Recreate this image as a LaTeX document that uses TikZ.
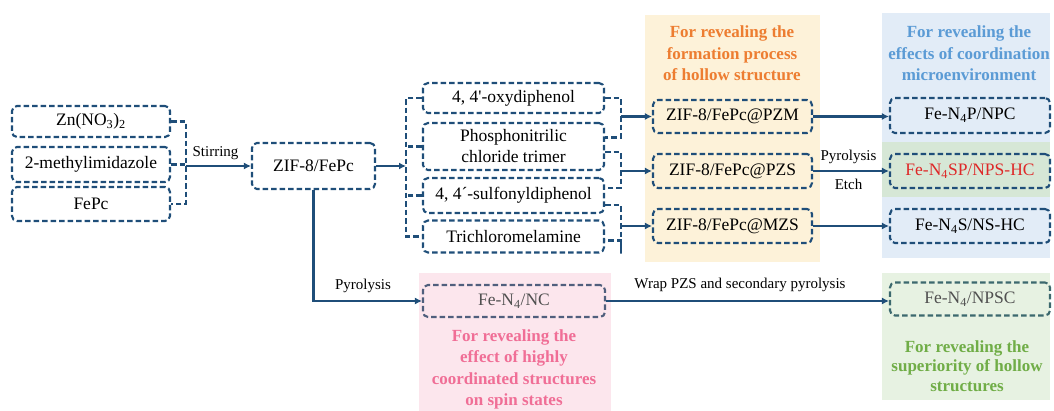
\documentclass[tikz,border=0pt]{standalone}
\usepackage{fontspec}
\setmainfont{Liberation Serif}
\usetikzlibrary{arrows.meta,calc}
\definecolor{bline}{RGB}{31,78,121}
\definecolor{orbg}{RGB}{253,242,217}
\definecolor{blbg}{RGB}{226,236,247}
\definecolor{hlbg}{RGB}{214,231,214}
\definecolor{pkbg}{RGB}{252,230,237}
\definecolor{gnbg}{RGB}{231,242,226}
\definecolor{ortx}{RGB}{237,125,49}
\definecolor{bltx}{RGB}{91,155,213}
\definecolor{pktx}{RGB}{240,110,150}
\definecolor{gntx}{RGB}{112,173,71}
\definecolor{rdtx}{RGB}{222,40,40}
\definecolor{ncln}{RGB}{80,95,125}
\definecolor{npln}{RGB}{60,105,110}
\definecolor{gytx}{RGB}{80,80,80}
\tikzset{
  dbox/.style={draw=bline, line width=2.1pt, dash pattern=on 5.5pt off 3pt, rounded corners=5pt,
    inner sep=0pt, align=center, font=\fontsize{17.5}{21}\selectfont, text=black},
  brk/.style={draw=bline, line width=2.1pt, dash pattern=on 5.5pt off 3pt},
  arr/.style={draw=bline, line width=2.4pt, -{Latex[length=7pt,width=7pt]}},
  lbl/.style={font=\fontsize{15}{18}\selectfont, inner sep=0pt},
  ttl/.style={font=\fontsize{17}{21.5}\selectfont\bfseries, align=center, inner sep=0pt}
}
\begin{document}
\begin{tikzpicture}[x=1pt,y=-1pt]
\useasboundingbox (0,0) rectangle (1054,411);
% backgrounds
\fill[orbg] (645,15) rectangle (820,262);
\fill[blbg] (882,13) rectangle (1050,258);
\fill[hlbg] (882,142) rectangle (1050,197);
\fill[pkbg] (419,273) rectangle (611,411);
\fill[gnbg] (882,273) rectangle (1050,400);
% titles
\node[ttl, text=ortx] (t1) at (732,53.5) {For revealing the\\formation process\\of hollow structure};
\node[ttl, text=bltx] (t2) at (969,53.5) {For revealing the\\effects of coordination\\microenvironment};
\node[ttl, text=pktx] (t3) at (514,369.5) {For revealing the\\effect of highly\\coordinated structures\\on spin states};
\node[ttl, text=gntx, font=\fontsize{17}{19.5}\selectfont\bfseries] (t4) at (967,366) {For revealing the\\superiority of hollow\\structures};
% left boxes
\node[dbox, minimum width=158pt, minimum height=31pt] (zn) at (91,121.5) {Zn(NO\textsubscript{3})\textsubscript{2}};
\node[dbox, minimum width=158pt, minimum height=35pt] (mi) at (91,164.5) {2-methylimidazole};
\node[dbox, minimum width=158pt, minimum height=34pt] (fe) at (91,204) {FePc};
\node[dbox, minimum width=123pt, minimum height=46pt] (zif) at (313.5,166) {ZIF-8/FePc};
% middle boxes
\node[dbox, minimum width=181pt, minimum height=30pt] (oxy) at (513.5,98) {4, 4\textquotesingle-oxydiphenol};
\node[dbox, minimum width=181pt, minimum height=47pt] (pho) at (513.5,146.5) {Phosphonitrilic\\chloride trimer};
\node[dbox, minimum width=181pt, minimum height=35pt] (sul) at (513.5,195.5) {4, 4´-sulfonyldiphenol};
\node[dbox, minimum width=181pt, minimum height=32pt] (tri) at (513.5,236.5) {Trichloromelamine};
% ZIF@ boxes
\node[dbox, minimum width=159pt, minimum height=33pt] (pzm) at (732.5,116.5) {ZIF-8/FePc@PZM};
\node[dbox, minimum width=159pt, minimum height=34pt] (pzs) at (732.5,171) {ZIF-8/FePc@PZS};
\node[dbox, minimum width=159pt, minimum height=34pt] (mzs) at (732.5,226) {ZIF-8/FePc@MZS};
% products
\node[dbox, minimum width=160pt, minimum height=35pt] (npc) at (970,115.5) {Fe-N\textsubscript{4}P/NPC};
\node[dbox, minimum width=160pt, minimum height=34pt, text=rdtx] (nps) at (970,171) {Fe-N\textsubscript{4}SP/NPS-HC};
\node[dbox, minimum width=160pt, minimum height=34pt] (ns) at (970,226) {Fe-N\textsubscript{4}S/NS-HC};
\node[dbox, draw=ncln, text=gytx, minimum width=182pt, minimum height=32pt] (nc) at (514,301) {Fe-N\textsubscript{4}/NC};
\node[dbox, draw=npln, text=gytx, minimum width=160pt, minimum height=33pt] (npsc) at (970,299) {Fe-N\textsubscript{4}/NPSC};
% left bracket
\coordinate (lb) at (186,166);
\draw[brk] (zn.east) -| (lb) |- (fe.east);
\draw[brk] (mi.east) -- (mi.east -| lb);
\draw[arr] (lb) -- (zif.west);
\node[lbl] (stir) at (215.5,153) {Stirring};
% middle bracket
\coordinate (mb) at (406,166);
\draw[arr] (zif.east) -- (mb);
\draw[brk] (oxy.west) -| (mb) |- (tri.west);
\draw[brk] (pho.west) -- (pho.west -| mb);
\draw[brk] (sul.west) -- (sul.west -| mb);
% right brackets
\coordinate (rb) at (621,166);
\draw[brk] (oxy.east) -| (rb |- pho.north) |- ([yshift=9pt]pho.east);
\draw[brk] ([yshift=-5.5pt]pho.east) -| (rb |- sul.north) |- ([yshift=7.5pt]sul.east);
\draw[brk] ([yshift=-9.5pt]sul.east) -| (rb |- tri.south) |- ([yshift=-4pt]tri.east);
\draw[arr] (pzm.west -| rb) -- (pzm.west);
\draw[arr] (pzs.west -| rb) -- (pzs.west);
\draw[arr] (mzs.west -| rb) -- (mzs.west);
% to products
\draw[arr] (pzm.east) -- (pzm.east -| npc.west);
\draw[arr] (pzs.east) -- (pzs.east -| nps.west);
\draw[arr] (mzs.east) -- (mzs.east -| ns.west);
\node[lbl] (pyr1) at (848.5,156.5) {Pyrolysis};
\node[lbl] (etch) at (848.5,184) {Etch};
% bottom path
\draw[arr] (zif.south) |- (nc.west);
\node[lbl] (pyr2) at (363,286) {Pyrolysis};
\draw[arr] (nc.east) -- (nc.east -| npsc.west);
\node[lbl] (wrap) at (740,284.5) {Wrap PZS and secondary pyrolysis};
\end{tikzpicture}
\end{document}
